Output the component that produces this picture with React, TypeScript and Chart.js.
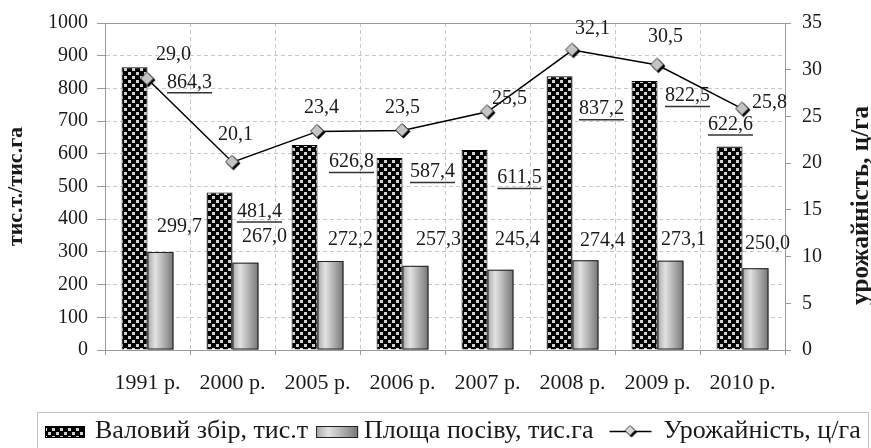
import React, { useEffect, useRef } from "react";
import { Chart, registerables } from "chart.js";

Chart.register(...registerables);

// ---------- data ----------
const categories = ["1991 р.", "2000 р.", "2005 р.", "2006 р.", "2007 р.", "2008 р.", "2009 р.", "2010 р."];
const grossHarvest = [864.3, 481.4, 626.8, 587.4, 611.5, 837.2, 822.5, 622.6];
const sownArea = [299.7, 267.0, 272.2, 257.3, 245.4, 274.4, 273.1, 250.0];
const yieldValues = [29.0, 20.1, 23.4, 23.5, 25.5, 32.1, 30.5, 25.8];
const seriesNames = ["Валовий збір, тис.т", "Площа посіву, тис.га", "Урожайність, ц/га"];
const leftAxisTitle = "тис.т./тис.га";
const rightAxisTitle = "урожайність, ц/га";
const leftMax = 1000;
const leftStep = 100;
const rightMax = 35;
const rightStep = 5;

// ---------- label placement (px offsets from the anchor) ----------
const grossLabelDx = [42, 27, 34, 30, 32, 29, 30, -12];
const grossLabelDy = [15, 19, 17, 14, 28, 33, 15, -22];
const areaLabelDx = [32, 32, 33, 36, 30, 30, 26, 25];
const areaLabelDy = [-25, -26, -21, -26, -30, -20, -21, -25];
const yieldLabelDx = [26, 3, 4, 0, 22, 20, 8, 27];
const yieldLabelDy = [-24, -27, -24, -23, -13, -21, -28, -6];

const CAT_PCT = 0.61;
const FONT = '"Liberation Serif", "Times New Roman", serif';

const fmt = (v: number) => v.toFixed(1).replace(".", ",");

function makeChecker(): HTMLCanvasElement {
  const c = document.createElement("canvas");
  c.width = 8;
  c.height = 8;
  const g = c.getContext("2d")!;
  g.fillStyle = "#000";
  g.fillRect(0, 0, 8, 8);
  g.fillStyle = "#d2d2d2";
  g.fillRect(0, 0, 3, 3);
  g.fillRect(4, 4, 3, 3);
  return c;
}

function diamondPath(g: CanvasRenderingContext2D, cx: number, cy: number, r: number) {
  g.beginPath();
  g.moveTo(cx, cy - r);
  g.lineTo(cx + r, cy);
  g.lineTo(cx, cy + r);
  g.lineTo(cx - r, cy);
  g.closePath();
}

function makeDiamond(r: number, fill: string): HTMLCanvasElement {
  const s = Math.ceil(r * 2 + 5);
  const c = document.createElement("canvas");
  c.width = s;
  c.height = s;
  const g = c.getContext("2d")!;
  const m = s / 2;
  diamondPath(g, m + 1, m + 1, r);
  g.fillStyle = "#000";
  g.fill();
  diamondPath(g, m - 0.5, m - 0.5, r - 0.5);
  g.fillStyle = fill;
  g.fill();
  g.lineWidth = 0.8;
  g.strokeStyle = "#222";
  g.stroke();
  return c;
}

function grayGradient(g: CanvasRenderingContext2D, x0: number, w: number) {
  const gr = g.createLinearGradient(x0, 0, x0 + w, 0);
  gr.addColorStop(0, "#a8a8a8");
  gr.addColorStop(0.3, "#e2e2e2");
  gr.addColorStop(1, "#767676");
  return gr;
}

export default function App() {
  const ref = useRef<HTMLCanvasElement | null>(null);

  useEffect(() => {
    document.body.style.margin = "0";
    const canvas = ref.current!;
    const ctx0 = canvas.getContext("2d")!;
    const checker = ctx0.createPattern(makeChecker(), "repeat")!;
    const diamond = makeDiamond(7, "#c4c4c4");
    const smallDiamond = makeDiamond(5.5, "#d8d8d8");

    Chart.defaults.font.family = FONT;
    Chart.defaults.color = "#1a1a1a";

    const frame = {
      id: "frame",
      beforeDatasetsDraw(chart: any) {
        const { ctx, chartArea: a } = chart;
        ctx.save();
        ctx.strokeStyle = "#9a9a9a";
        ctx.lineWidth = 1;
        ctx.strokeRect(Math.round(a.left) + 0.5, Math.round(a.top) + 0.5, Math.round(a.right - a.left), Math.round(a.bottom - a.top));
        ctx.restore();
      },
    };

    const gradientBars = {
      id: "gradientBars",
      afterDatasetDraw(chart: any, args: any) {
        if (args.index !== 1) return;
        const { ctx } = chart;
        const meta = chart.getDatasetMeta(1);
        ctx.save();
        meta.data.forEach((el: any) => {
          const p = el.getProps(["x", "y", "base", "width"], true);
          const left = p.x - p.width / 2;
          const top = Math.min(p.y, p.base);
          const h = Math.abs(p.base - p.y);
          ctx.fillStyle = grayGradient(ctx, left, p.width);
          ctx.fillRect(left, top, p.width, h);
          ctx.strokeStyle = "#222";
          ctx.lineWidth = 1;
          ctx.strokeRect(left + 0.5, top + 0.5, p.width - 1, h - 1);
        });
        ctx.restore();
      },
    };

    const labels = {
      id: "valueLabels",
      afterDatasetsDraw(chart: any) {
        const { ctx } = chart;
        const xs = chart.scales.x;
        const ys = chart.scales.y;
        const y1 = chart.scales.y1;
        ctx.save();
        ctx.font = `20px ${FONT}`;
        ctx.textAlign = "center";
        ctx.textBaseline = "middle";
        ctx.fillStyle = "#1a1a1a";
        grossHarvest.forEach((v, i) => {
          const cx = xs.getPixelForValue(i) + grossLabelDx[i];
          const cy = ys.getPixelForValue(v) + grossLabelDy[i];
          const t = fmt(v);
          ctx.fillText(t, cx, cy);
          const w = ctx.measureText(t).width;
          ctx.beginPath();
          ctx.moveTo(cx - w / 2, cy + 10.5);
          ctx.lineTo(cx + w / 2, cy + 10.5);
          ctx.lineWidth = 1.5;
          ctx.strokeStyle = "#333";
          ctx.stroke();
        });
        sownArea.forEach((v, i) => {
          const cx = xs.getPixelForValue(i) + areaLabelDx[i];
          const cy = ys.getPixelForValue(v) + areaLabelDy[i];
          ctx.fillText(fmt(v), cx, cy);
        });
        yieldValues.forEach((v, i) => {
          const cx = xs.getPixelForValue(i) + yieldLabelDx[i];
          const cy = y1.getPixelForValue(v) + yieldLabelDy[i];
          ctx.fillText(fmt(v), cx, cy);
        });
        ctx.restore();
      },
    };

    const rightTitle = {
      id: "rightTitle",
      afterDraw(chart: any) {
        const { ctx } = chart;
        const y1 = chart.scales.y1;
        ctx.save();
        ctx.translate(y1.right - 9, (chart.chartArea.top + chart.chartArea.bottom) / 2 + 19);
        ctx.rotate(-Math.PI / 2);
        ctx.font = `bold 25px ${FONT}`;
        ctx.textAlign = "center";
        ctx.textBaseline = "middle";
        ctx.fillStyle = "#1a1a1a";
        ctx.fillText(rightAxisTitle, 0, 0);
        ctx.restore();
      },
    };

    const legend = {
      id: "customLegend",
      afterDraw(chart: any) {
        const { ctx } = chart;
        ctx.save();
        ctx.strokeStyle = "#c4c4c4";
        ctx.lineWidth = 1;
        ctx.strokeRect(37.5, 412.5, 831, 60);
        const cy = 431;
        let x = 45;
        ctx.font = `26px ${FONT}`;
        ctx.textBaseline = "middle";
        ctx.textAlign = "left";
        ctx.fillStyle = checker;
        ctx.fillRect(x, cy - 5, 40, 12);
        ctx.strokeStyle = "#000";
        ctx.strokeRect(x + 0.5, cy - 4.5, 39, 11);
        x += 50;
        ctx.fillStyle = "#1a1a1a";
        ctx.fillText(seriesNames[0], x, cy);
        x += ctx.measureText(seriesNames[0]).width + 8;
        ctx.fillStyle = grayGradient(ctx, x, 42);
        ctx.fillRect(x, cy - 5, 42, 12);
        ctx.strokeStyle = "#222";
        ctx.strokeRect(x + 0.5, cy - 4.5, 41, 11);
        x += 48;
        ctx.fillStyle = "#1a1a1a";
        ctx.fillText(seriesNames[1], x, cy);
        x += ctx.measureText(seriesNames[1]).width + 16;
        ctx.beginPath();
        ctx.moveTo(x, cy + 0.5);
        ctx.lineTo(x + 42, cy + 0.5);
        ctx.strokeStyle = "#000";
        ctx.lineWidth = 1.5;
        ctx.stroke();
        ctx.drawImage(smallDiamond, x + 21 - smallDiamond.width / 2, cy - smallDiamond.height / 2);
        x += 54;
        ctx.fillStyle = "#1a1a1a";
        ctx.fillText(seriesNames[2], x, cy);
        ctx.restore();
      },
    };

    const chart = new Chart(canvas, {
      type: "bar",
      data: {
        labels: categories,
        datasets: [
          {
            type: "bar",
            label: seriesNames[0],
            data: grossHarvest,
            yAxisID: "y",
            backgroundColor: checker as any,
            borderColor: "#000",
            borderWidth: 1,
            barPercentage: 1,
            categoryPercentage: CAT_PCT,
            order: 1,
          },
          {
            type: "bar",
            label: seriesNames[1],
            data: sownArea,
            yAxisID: "y",
            backgroundColor: "#b0b0b0",
            borderColor: "#222",
            borderWidth: 1,
            barPercentage: 1,
            categoryPercentage: CAT_PCT,
            order: 1,
          },
          {
            type: "line",
            label: seriesNames[2],
            data: yieldValues,
            yAxisID: "y1",
            borderColor: "#000",
            borderWidth: 1.5,
            pointStyle: diamond as any,
            pointRadius: 7,
            pointHoverRadius: 7,
            fill: false,
            tension: 0,
            order: 0,
          } as any,
        ],
      },
      options: {
        responsive: false,
        animation: false,
        events: [],
        layout: { padding: { top: 19, left: 0, right: 0, bottom: 0 } },
        plugins: { legend: { display: false }, tooltip: { enabled: false } },
        scales: {
          x: {
            grid: {
              display: true,
              offset: true,
              color: "#c8c8c8",
              tickLength: 5,
              tickColor: "#9a9a9a",
            },
            border: { display: true, color: "#9a9a9a", dash: [4, 3] },
            ticks: { font: { size: 22, family: FONT }, color: "#1a1a1a", padding: 15, maxRotation: 0, autoSkip: false },
            afterFit: (s: any) => {
              s.height = 98;
            },
          },
          y: {
            position: "left",
            min: 0,
            max: leftMax,
            ticks: { stepSize: leftStep, font: { size: 20, family: FONT }, color: "#1a1a1a", padding: 9, callback: (v: any) => String(v) },
            grid: { color: "#c8c8c8", tickLength: 8, tickColor: "#9a9a9a" },
            border: { display: true, color: "#9a9a9a", dash: [4, 3] },
            title: { display: true, text: leftAxisTitle, font: { size: 22, weight: "bold", family: FONT }, color: "#1a1a1a", padding: { top: 3, bottom: 0 } },
            afterFit: (s: any) => {
              s.width = 105;
            },
          },
          y1: {
            position: "right",
            min: 0,
            max: rightMax,
            ticks: { stepSize: rightStep, font: { size: 20, family: FONT }, color: "#1a1a1a", padding: 11, callback: (v: any) => String(v) },
            grid: { drawOnChartArea: false, tickLength: 6, tickColor: "#9a9a9a" },
            border: { display: true, color: "#9a9a9a" },
            title: { display: false },
            afterFit: (s: any) => {
              s.width = 86;
            },
          },
        },
      } as any,
      plugins: [frame, gradientBars, labels, rightTitle, legend],
    });

    return () => chart.destroy();
  }, []);

  return (
    <div style={{ width: 871, height: 448, background: "#fff" }}>
      <canvas ref={ref} width={871} height={448} style={{ display: "block" }} />
    </div>
  );
}
